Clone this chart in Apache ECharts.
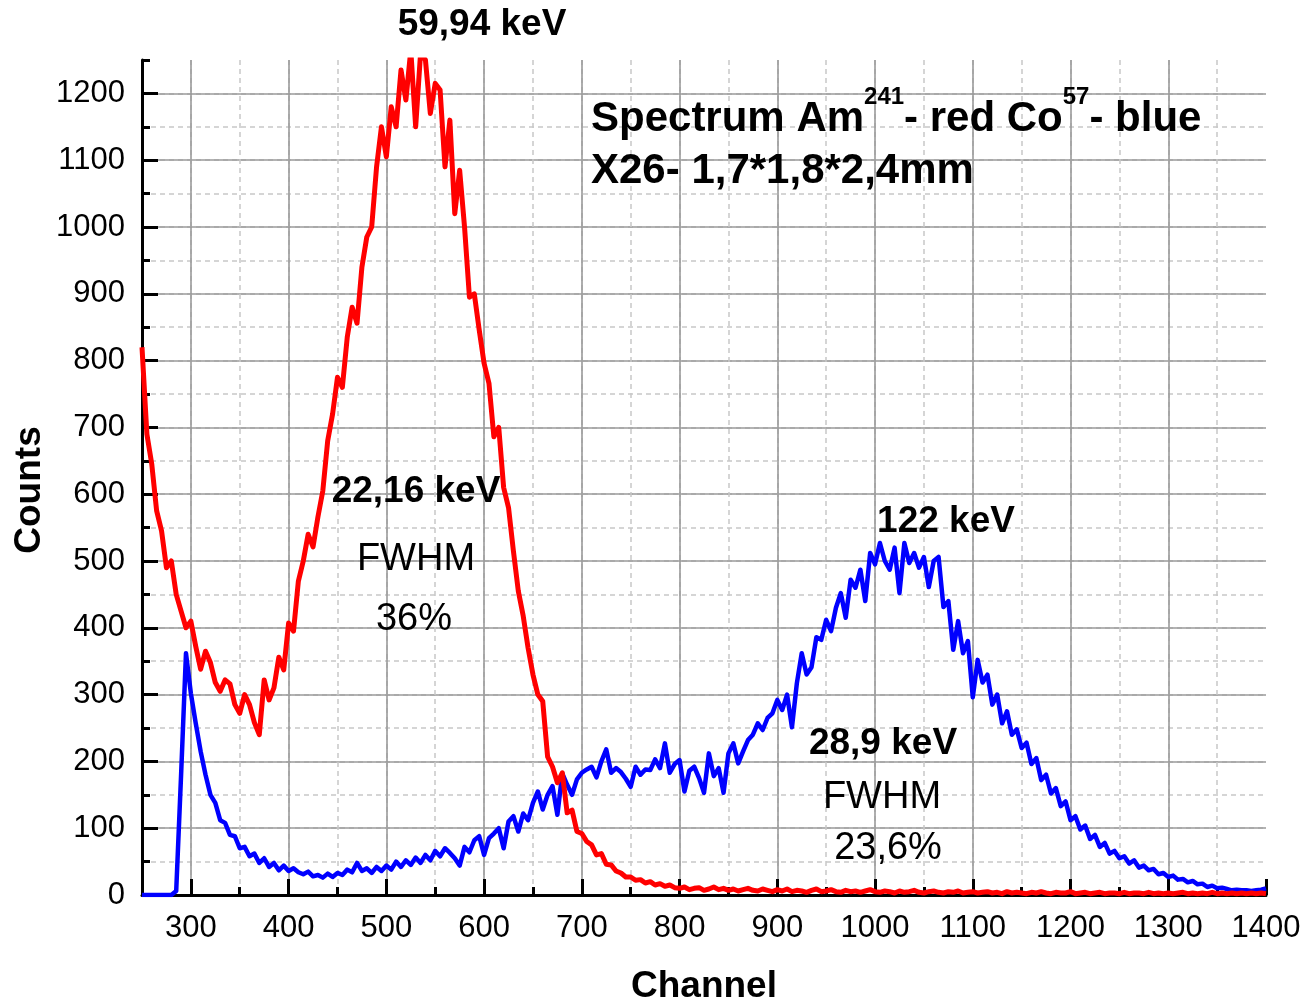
<!DOCTYPE html>
<html>
<head>
<meta charset="utf-8">
<title>Spectrum Am241 / Co57</title>
<script src="https://cdn.jsdelivr.net/npm/echarts@6/dist/echarts.min.js"></script>
<style>
  html, body { margin: 0; padding: 0; background: #ffffff; }
  #chart { width: 1307px; height: 1006px; }
</style>
</head>
<body>
<div id="chart"></div>
<script>
// Spectra are sampled every 5 channels, starting at channel 250.
const channelStart = 250;
const channelStep = 5;

// Am-241 counts (red), channels 250..1400
const am241Counts = [
  820, 690, 645, 575, 545, 490, 500, 450, 425, 400,
  410, 372, 338, 365, 348, 318, 305, 322, 316, 285,
  272, 300, 285, 258, 240, 322, 292, 310, 356, 337,
  407, 395, 470, 500, 540, 521, 566, 605, 680, 720,
  775, 760, 835, 880, 856, 940, 985, 1000, 1090, 1150,
  1105, 1180, 1150, 1235, 1190, 1265, 1150, 1260, 1250, 1170,
  1215, 1205, 1090, 1160, 1020, 1085, 1000, 895, 900, 846,
  796, 766, 686, 700, 610, 580, 515, 455, 418, 370,
  330, 300, 290, 207, 192, 168, 183, 123, 127, 95,
  92, 80, 75, 60, 62, 46, 45, 36, 33, 27,
  27, 22, 23, 18, 20, 15, 17, 13, 15, 11,
  10, 12, 8, 10, 11, 7, 9, 12, 8, 10,
  7, 9, 6, 8, 10, 7, 6, 9, 7, 5,
  8, 6, 9, 5, 7, 6, 4, 7, 9, 5,
  6, 8, 5, 4, 7, 5, 6, 4, 6, 8,
  5, 4, 6, 5, 3, 6, 4, 5, 7, 4,
  3, 5, 6, 4, 3, 5, 4, 6, 3, 4,
  5, 3, 4, 5, 3, 4, 2, 5, 3, 4,
  3, 2, 4, 3, 5, 3, 2, 4, 3, 3,
  5, 2, 3, 4, 2, 3, 4, 2, 3, 3,
  2, 4, 2, 3, 3, 2, 4, 2, 3, 2,
  3, 2, 3, 4, 2, 3, 2, 3, 2, 4,
  2, 3, 2, 3, 2, 3, 2, 3, 2, 3,
  2
];

// Co-57 counts (blue), channels 250..1400
const co57Counts = [
  0, 0, 0, 0, 0, 0, 0, 6, 180, 362,
  302, 257, 215, 180, 150, 138, 112, 108, 90, 88,
  70, 72, 58, 62, 48, 55, 42, 48, 37, 44,
  36, 40, 34, 31, 35, 28, 30, 26, 32, 27,
  33, 30, 38, 34, 48, 36, 40, 33, 42, 36,
  44, 38, 50, 42, 52, 45, 56, 48, 60, 52,
  66, 58, 70, 63, 55, 44, 72, 64, 82, 88,
  60, 85, 92, 100, 70, 110, 118, 95, 122, 112,
  138, 155, 128, 150, 163, 120, 182, 165, 150, 173,
  183, 188, 192, 176, 200, 218, 183, 190, 184, 174,
  162, 192, 180, 188, 187, 203, 190, 227, 183, 196,
  202, 155, 186, 192, 175, 153, 212, 178, 190, 153,
  212, 227, 197, 215, 232, 240, 257, 247, 265, 272,
  292, 277, 300, 251, 317, 362, 330, 341, 386, 382,
  412, 395, 430, 452, 415, 472, 460, 487, 440, 512,
  495, 527, 500, 487, 520, 452, 527, 497, 512, 490,
  506, 461, 500, 506, 431, 440, 367, 410, 362, 380,
  296, 352, 318, 330, 285, 300, 257, 275, 240, 248,
  220, 228, 196, 205, 172, 180, 152, 160, 133, 140,
  112, 118, 98, 104, 84, 90, 72, 78, 62, 66,
  55, 58, 47, 52, 41, 44, 37, 39, 31, 33,
  27, 29, 23, 24, 19, 21, 16, 17, 12, 14,
  10, 11, 9, 7, 8, 7, 7, 6, 7, 8,
  10
];

// Labelled (major) ticks
const xMajorTicks = [300, 400, 500, 600, 700, 800, 900, 1000, 1100, 1200, 1300, 1400];
const yMajorTicks = [0, 100, 200, 300, 400, 500, 600, 700, 800, 900, 1000, 1100, 1200];

const FONT = '"Liberation Sans", Arial, Helvetica, sans-serif';

const toPairs = counts => counts.map((c, i) => [channelStart + i * channelStep, c]);

// Text width helper used to chain the superscripted title pieces
const measureCtx = document.createElement('canvas').getContext('2d');
function textWidth(str, size, weight) {
  measureCtx.font = weight + ' ' + size + 'px "Liberation Sans", Arial, sans-serif';
  return measureCtx.measureText(str).width;
}

const plotGrid = { left: 142, right: 41, top: 60, bottom: 111, containLabel: false };
const blackTick = { color: '#000000', width: 3 };
const plainNumber = v => String(v);

// Free-standing texts: [text, x, y, size, weight]
const notes = [
  ['59,94 keV', 482, 25, 37, 'bold'],
  ['22,16 keV', 416, 492, 37, 'bold'],
  ['FWHM', 416, 560, 38, 'normal'],
  ['36%', 414, 620, 38, 'normal'],
  ['122 keV', 946, 522, 37, 'bold'],
  ['28,9 keV', 883, 744, 37, 'bold'],
  ['FWHM', 882, 798, 38, 'normal'],
  ['23,6%', 888, 849, 38, 'normal']
];

const graphics = notes.map(([text, x, y, size, weight]) => ({
  type: 'text', x: x, y: y, z: 10,
  style: { text: text, fill: '#000', fontSize: size, fontWeight: weight, fontFamily: FONT,
           align: 'center', verticalAlign: 'middle' }
}));

// Title line with superscript mass numbers
const titlePieces = [
  ['Spectrum Am', false], ['241', true], ['- red Co', false], ['57', true], ['- blue', false]
];
let cursor = 591;
titlePieces.forEach(([text, sup]) => {
  const size = sup ? 24 : 42;
  graphics.push({
    type: 'text', x: cursor, y: sup ? 97 : 119, z: 10,
    style: { text: text, fill: '#000', fontSize: size, fontWeight: 'bold', fontFamily: FONT,
             align: 'left', verticalAlign: 'middle' }
  });
  cursor += textWidth(text, size, 'bold');
});
graphics.push({
  type: 'text', x: 591, y: 171, z: 10,
  style: { text: 'X26- 1,7*1,8*2,4mm', fill: '#000', fontSize: 42, fontWeight: 'bold', fontFamily: FONT,
           align: 'left', verticalAlign: 'middle' }
});

// Axis titles
graphics.push({
  type: 'text', x: 30, y: 490, rotation: Math.PI / 2, z: 10,
  style: { text: 'Counts', fill: '#000', fontSize: 37, fontWeight: 'bold', fontFamily: FONT,
           align: 'center', verticalAlign: 'middle' }
});
graphics.push({
  type: 'text', x: 704, y: 987, z: 10,
  style: { text: 'Channel', fill: '#000', fontSize: 37, fontWeight: 'bold', fontFamily: FONT,
           align: 'center', verticalAlign: 'middle' }
});

const chart = echarts.init(document.getElementById('chart'), null, { renderer: 'canvas' });

chart.setOption({
  animation: false,
  backgroundColor: '#ffffff',
  grid: [plotGrid, plotGrid],
  xAxis: [
    { // minor grid + short ticks every 50 channels, carries the data
      type: 'value', gridIndex: 0, min: 250, max: 1400, interval: 50,
      axisLine: { show: true, onZero: false, lineStyle: { color: '#000', width: 3 } },
      axisTick: { show: true, inside: true, length: 8, lineStyle: blackTick },
      axisLabel: { show: false },
      splitLine: { show: true, showMinLine: false, showMaxLine: false,
                   lineStyle: { color: '#c8c8c8', width: 1.5, type: [5, 4] } }
    },
    { // major grid, long ticks and labels
      type: 'value', gridIndex: 1, min: 250, max: 1400,
      axisLine: { show: false, onZero: false },
      axisTick: { show: true, inside: true, length: 16, customValues: xMajorTicks, lineStyle: blackTick },
      axisLabel: { show: true, customValues: xMajorTicks, formatter: plainNumber, fontSize: 31,
                   color: '#000', fontFamily: FONT, margin: 18 },
      splitLine: { show: true, showMinLine: true, showMaxLine: false,
                   lineStyle: { color: '#9a9a9a', width: 1.6, type: 'solid' } }
    }
  ],
  yAxis: [
    {
      type: 'value', gridIndex: 0, min: 0, max: 1250, interval: 50,
      axisLine: { show: true, onZero: false, lineStyle: { color: '#000', width: 3 } },
      axisTick: { show: true, inside: true, length: 8, lineStyle: blackTick },
      axisLabel: { show: false },
      splitLine: { show: true, showMinLine: false, showMaxLine: false,
                   lineStyle: { color: '#c8c8c8', width: 1.5, type: [5, 4] } }
    },
    {
      type: 'value', gridIndex: 1, min: 0, max: 1250,
      axisLine: { show: false, onZero: false },
      axisTick: { show: true, inside: true, length: 16, customValues: yMajorTicks, lineStyle: blackTick },
      axisLabel: { show: true, customValues: yMajorTicks, formatter: plainNumber, fontSize: 31,
                   color: '#000', fontFamily: FONT, margin: 17 },
      splitLine: { show: true, showMinLine: false, showMaxLine: true,
                   lineStyle: { color: '#9a9a9a', width: 1.6, type: 'solid' } }
    }
  ],
  series: [
    {
      name: 'Co57', type: 'line', xAxisIndex: 0, yAxisIndex: 0,
      data: toPairs(co57Counts), showSymbol: false, symbol: 'none', z: 3,
      lineStyle: { color: '#0000ff', width: 4.5, join: 'round' }
    },
    {
      name: 'Am241', type: 'line', xAxisIndex: 0, yAxisIndex: 0,
      data: toPairs(am241Counts), showSymbol: false, symbol: 'none', z: 4,
      lineStyle: { color: '#ff0000', width: 5, join: 'round' }
    }
  ],
  graphic: graphics
});
</script>
</body>
</html>
